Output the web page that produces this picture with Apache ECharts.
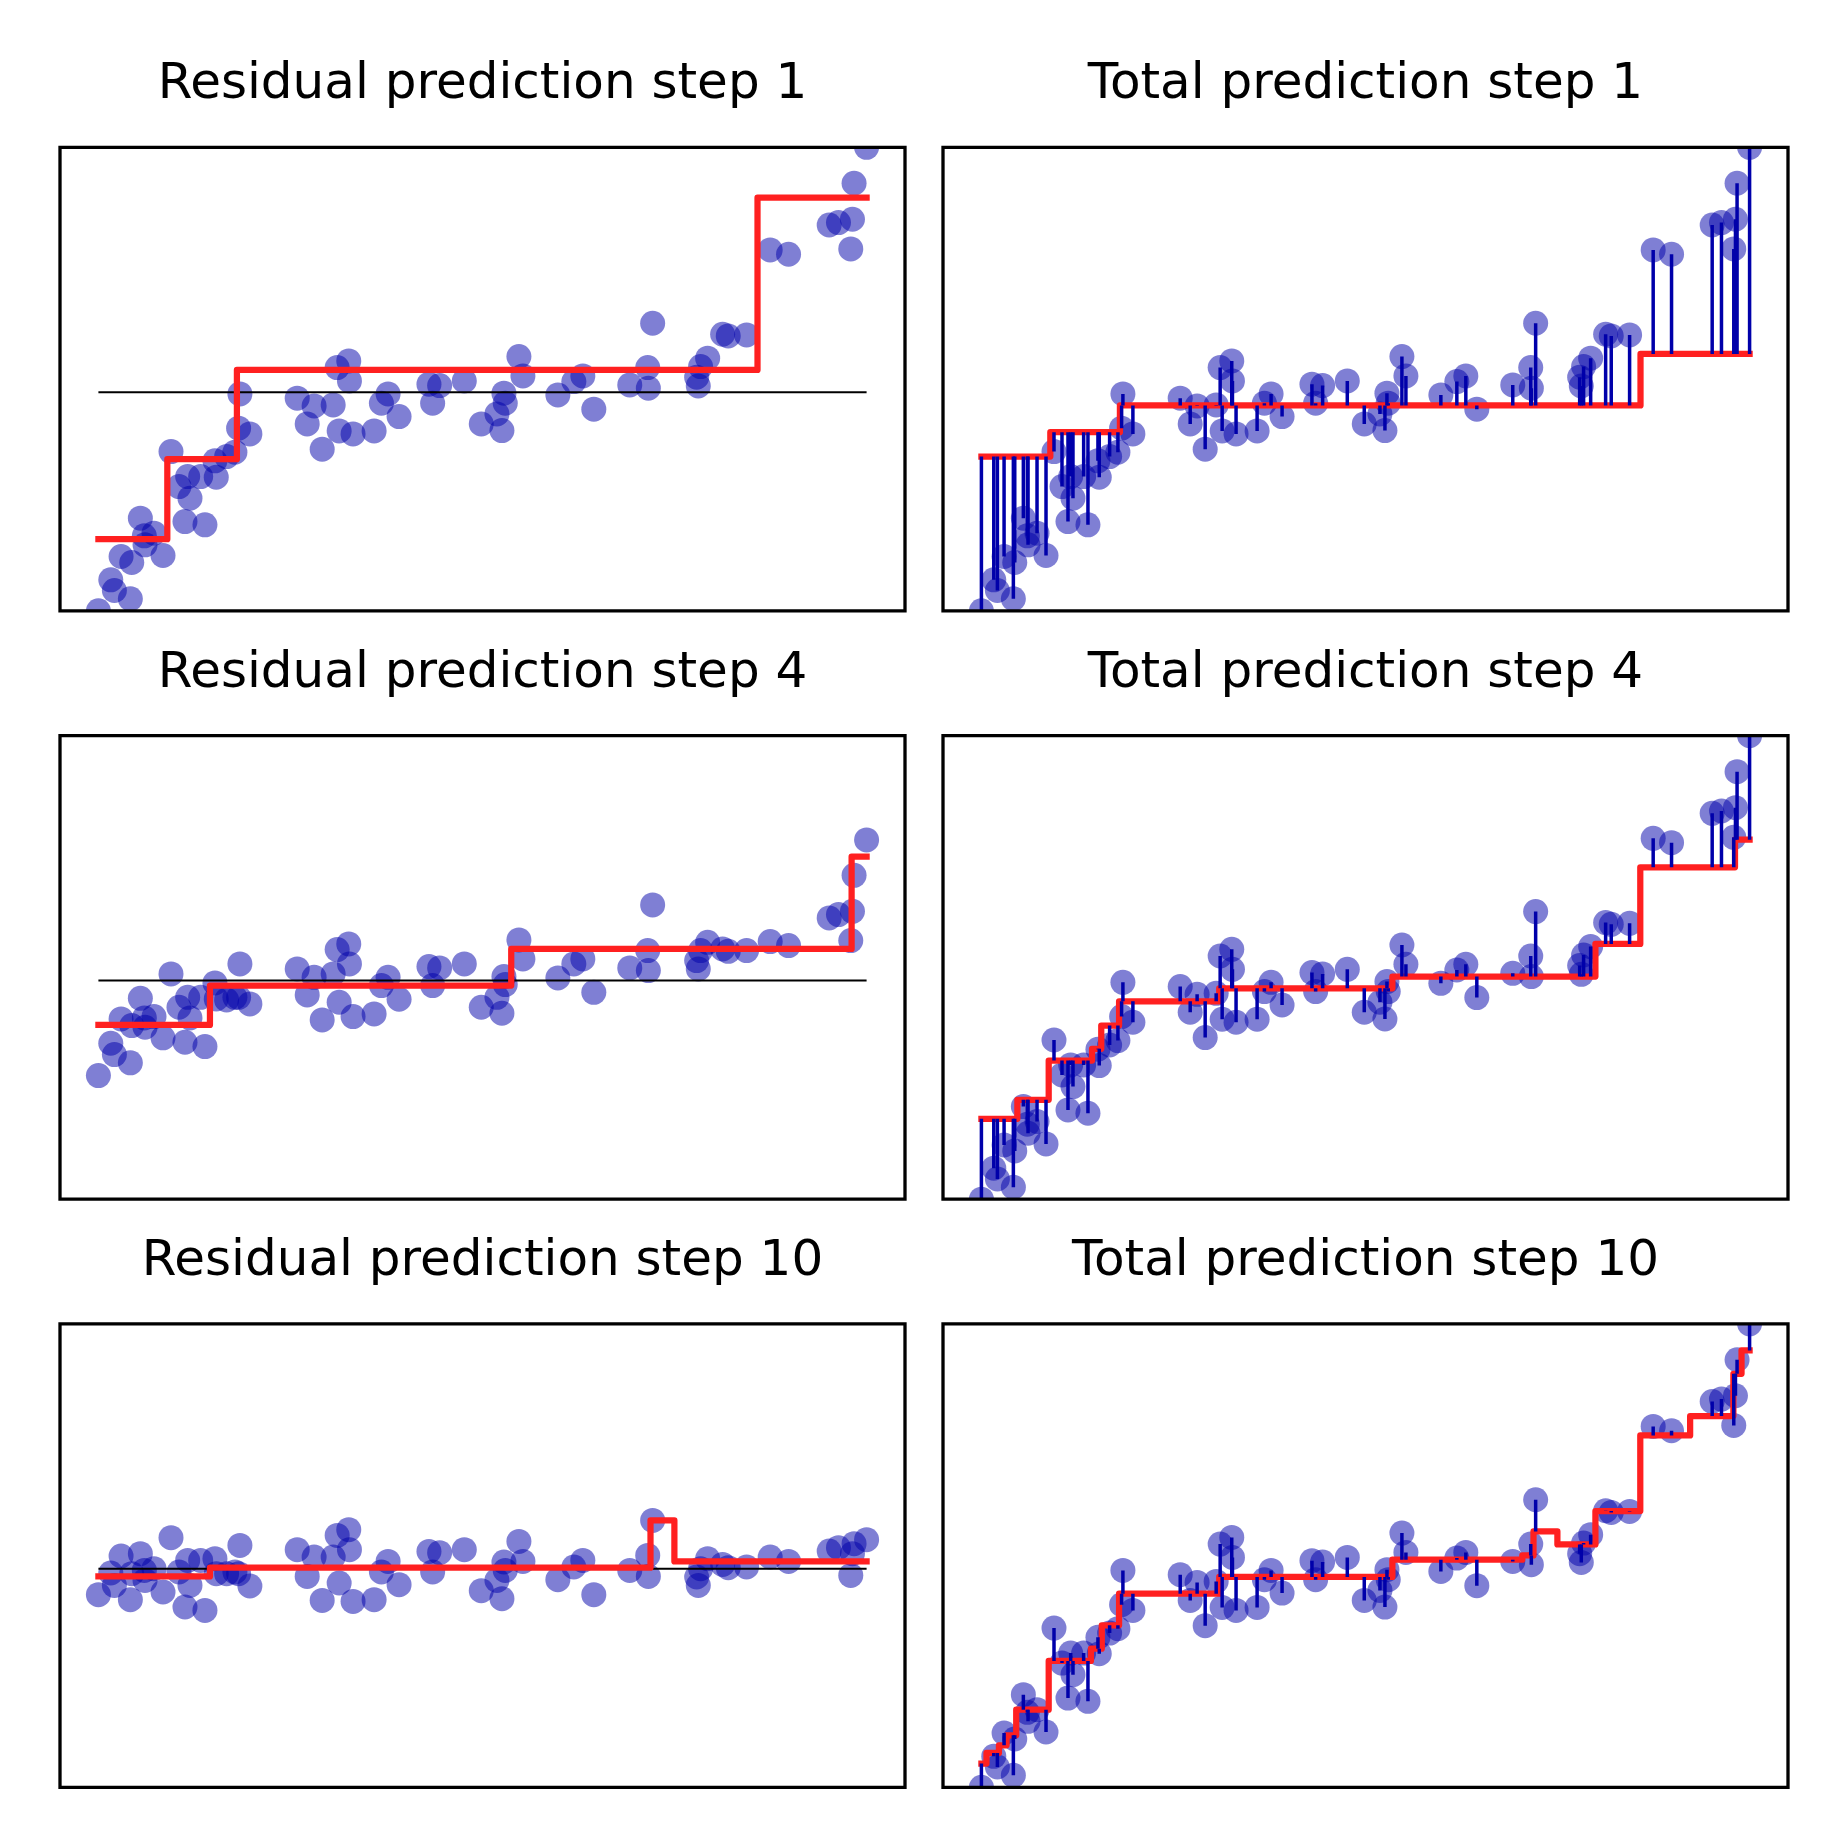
<!DOCTYPE html>
<html>
<head>
<meta charset="utf-8">
<script src="https://cdn.jsdelivr.net/npm/echarts/dist/echarts.min.js"></script>
<style>html,body{margin:0;padding:0;background:#fff}#chart{width:1848px;height:1848px}</style>
</head>
<body>
<div id="chart"></div>
<script>
// ---- data (x normalised to the data range) ----
const xValues = [0.000,0.0161,0.0208,0.0295,0.0416,0.0434,0.0546,0.0598,0.0607,0.0724,0.0841,0.0945,0.1049,0.1127,0.1162,0.1192,0.1331,0.1387,0.1517,0.1534,0.1669,0.1777,0.1825,0.1842,0.1972,0.2588,0.2718,0.2808,0.2913,0.3056,0.3108,0.3134,0.3259,0.3268,0.3315,0.3589,0.3684,0.3771,0.3914,0.4303,0.4351,0.4442,0.4763,0.4984,0.5188,0.5253,0.5279,0.5296,0.5474,0.5526,0.5981,0.6189,0.6306,0.6449,0.6917,0.7151,0.7159,0.7215,0.7788,0.7809,0.7839,0.7931,0.8126,0.8199,0.8438,0.8745,0.8984,0.9513,0.9634,0.9794,0.9816,0.9837,1.000];
// observed target (also the residual at step 1, in the same units)
const observed = [-2.187,-1.877,-1.984,-1.644,-2.067,-1.704,-1.260,-1.437,-1.527,-1.410,-1.634,-0.594,-0.944,-1.294,-0.844,-1.060,-0.844,-1.327,-0.687,-0.850,-0.644,-0.600,-0.360,-0.017,-0.417,-0.060,-0.317,-0.137,-0.570,-0.127,0.246,-0.387,0.313,0.113,-0.417,-0.387,-0.110,-0.017,-0.244,0.080,-0.110,0.066,0.113,-0.317,-0.217,-0.384,-0.010,-0.110,0.356,0.163,-0.027,0.106,0.163,-0.170,0.073,0.246,0.040,0.690,0.150,0.063,0.256,0.340,0.580,0.563,0.573,1.423,1.380,1.673,1.697,1.433,1.730,2.090,2.45];
const residualStep4 = [-0.95,-0.627,-0.74,-0.383,-0.823,-0.45,-0.177,-0.373,-0.467,-0.36,-0.573,0.067,-0.267,-0.617,-0.167,-0.373,-0.167,-0.66,-0.023,-0.183,-0.193,-0.167,-0.167,0.167,-0.233,0.117,-0.143,0.033,-0.393,0.067,0.31,-0.217,0.367,0.167,-0.36,-0.333,-0.05,0.033,-0.187,0.14,-0.05,0.127,0.167,-0.267,-0.167,-0.327,0.04,-0.04,0.407,0.217,0.027,0.167,0.217,-0.117,0.127,0.3,0.1,0.757,0.2,0.117,0.3,0.383,0.317,0.293,0.3,0.39,0.35,0.627,0.66,0.4,0.693,1.053,1.407];
const residualStep10 = [-0.26,-0.043,-0.167,0.127,-0.31,-0.05,0.15,-0.017,-0.117,0,-0.233,0.31,-0.033,-0.383,0.083,-0.167,0.083,-0.417,0.1,-0.05,-0.05,-0.033,-0.05,0.233,-0.173,0.19,-0.077,0.117,-0.317,0.117,0.333,-0.143,0.39,0.19,-0.327,-0.31,-0.033,0.073,-0.16,0.173,-0.033,0.16,0.19,-0.22,-0.117,-0.3,0.067,-0.017,0.273,0.073,-0.11,0.017,0.083,-0.26,-0.017,0.133,-0.077,0.483,-0.083,-0.167,0,0.1,0.043,0.01,0.017,0.117,0.073,0.177,0.21,-0.067,0.15,0.25,0.29];

// step functions: edges (x) and levels (y)
const res1Edges = [0,0.0897,0.1803,0.858,1];
const res1Levels = [-1.47,-0.67,0.223,1.946];
const tot1Edges = [0,0.0897,0.1803,0.858,1];
const tot1Levels = [-0.644,-0.40,-0.133,0.383];
const res4Edges = [0,0.1452,0.5374,0.9805,1];
const res4Levels = [-0.443,-0.05,0.317,1.24];
const tot4Edges = [0,0.0468,0.0876,0.144,0.156,0.1792,0.3096,0.535,0.7993,0.8577,0.981,1];
const tot4Levels = [-1.383,-1.193,-0.80,-0.683,-0.45,-0.207,-0.077,0.04,0.367,1.133,1.41];
const res10Edges = [0,0.1452,0.7187,0.7498,1];
const res10Levels = [-0.077,0.01,0.483,0.073];
const tot10Edges = [0,0.0066,0.0228,0.0327,0.0453,0.0876,0.1426,0.1567,0.1792,0.3096,0.535,0.7041,0.7187,0.7498,0.7993,0.8577,0.9226,0.9789,0.9895,1];
const tot10Levels = [-1.95,-1.843,-1.767,-1.667,-1.41,-0.923,-0.80,-0.567,-0.25,-0.083,0.09,0.133,0.373,0.243,0.577,1.333,1.527,1.95,2.183];

const titles = ['Residual prediction step 1','Total prediction step 1','Residual prediction step 4','Total prediction step 4','Residual prediction step 10','Total prediction step 10'];

// ---- helpers ----
function stepData(edges, levels){
  const d = [];
  for (let i = 0; i < levels.length; i++) d.push([edges[i], levels[i]]);
  d.push([edges[edges.length-1], levels[levels.length-1]]);
  return d;
}
function predictAt(edges, levels, x){
  for (let i = 0; i < levels.length; i++){
    if (x < edges[i+1] || i === levels.length-1) return levels[i];
  }
}

const PT = '#0000aa';
const PT_FILL = 'rgba(0,0,170,0.5)';
const RED = '#ff2020';
const FONT = 'DejaVu Sans';
const colLeft = [60, 943];
const rowTop = [147.3, 735.7, 1323.8];
const titleY = [85.5, 674, 1262.3];
const W = 845, H = 463.5;

const grids = [], xAxes = [], yAxes = [], series = [], titleOpts = [];
for (let r = 0; r < 3; r++){
  for (let c = 0; c < 2; c++){
    const k = r*2 + c;
    grids.push({left: colLeft[c], top: rowTop[r], width: W, height: H, show: true, z: 10,
      borderColor: '#000', borderWidth: 3.3, backgroundColor: 'transparent', containLabel: false});
    xAxes.push({type: 'value', gridIndex: k, min: -0.05, max: 1.05, show: false});
    yAxes.push({type: 'value', gridIndex: k, min: -2.187, max: 2.45, show: false});
    titleOpts.push({text: titles[k], left: colLeft[c] + W/2, top: titleY[r], textAlign: 'center',
      textVerticalAlign: 'middle', padding: 0,
      textStyle: {fontSize: 50, fontWeight: 'normal', fontFamily: FONT, color: '#000'}});
  }
}

function scatter(k, ys){
  return {type: 'custom', xAxisIndex: k, yAxisIndex: k, clip: true, silent: true, z: 2,
    encode: {x: 0, y: 1},
    data: xValues.map((x,i)=>[x, ys[i]]),
    renderItem: function(params, api){
      const p = api.coord([api.value(0), api.value(1)]);
      return {type: 'circle', shape: {cx: p[0], cy: p[1], r: 12.5}, style: {fill: PT_FILL}};
    }};
}
function zeroLine(k){
  return {type: 'line', xAxisIndex: k, yAxisIndex: k, data: [[xValues[0],0],[xValues[xValues.length-1],0]],
    symbol: 'none', lineStyle: {color: '#000', width: 2}, z: 3, silent: true};
}
function stepLine(k, edges, levels){
  return {type: 'line', xAxisIndex: k, yAxisIndex: k, step: 'end', data: stepData(edges, levels),
    symbol: 'none', lineStyle: {color: RED, width: 6.25, cap: 'square', join: 'round'}, z: 4, silent: true};
}
function vlines(k, edges, levels){
  return {type: 'custom', xAxisIndex: k, yAxisIndex: k, silent: true, z: 5, clip: true,
    encode: {x: 0, y: [1, 2]},
    data: xValues.map((x,i)=>[x, observed[i], predictAt(edges, levels, x)]),
    renderItem: function(params, api){
      const a = api.coord([api.value(0), api.value(1)]);
      const b = api.coord([api.value(0), api.value(2)]);
      return {type: 'line', shape: {x1: a[0], y1: a[1], x2: b[0], y2: b[1]},
        style: {stroke: PT, lineWidth: 3.5}};
    }};
}

// row 1
series.push(scatter(0, observed), zeroLine(0), stepLine(0, res1Edges, res1Levels));
series.push(scatter(1, observed), stepLine(1, tot1Edges, tot1Levels), vlines(1, tot1Edges, tot1Levels));
// row 2
series.push(scatter(2, residualStep4), zeroLine(2), stepLine(2, res4Edges, res4Levels));
series.push(scatter(3, observed), stepLine(3, tot4Edges, tot4Levels), vlines(3, tot4Edges, tot4Levels));
// row 3
series.push(scatter(4, residualStep10), zeroLine(4), stepLine(4, res10Edges, res10Levels));
series.push(scatter(5, observed), stepLine(5, tot10Edges, tot10Levels), vlines(5, tot10Edges, tot10Levels));

const chart = echarts.init(document.getElementById('chart'), null, {renderer: 'canvas'});
chart.setOption({
  animation: false,
  backgroundColor: '#fff',
  title: titleOpts,
  grid: grids,
  xAxis: xAxes,
  yAxis: yAxes,
  series: series
});
</script>
</body>
</html>
